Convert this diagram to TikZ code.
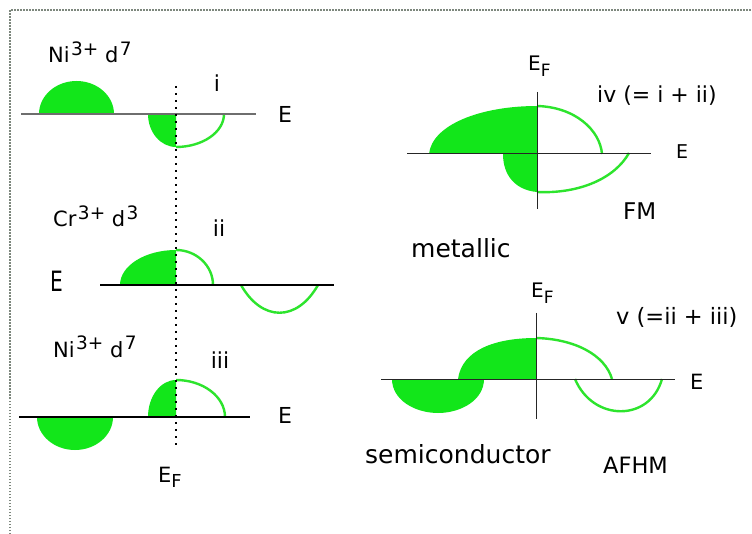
\documentclass[tikz,border=0pt]{standalone}
\usepackage{fontspec}
\setmainfont{DejaVu Sans}
\definecolor{bandgreen}{RGB}{18,230,26}
\definecolor{lineg}{RGB}{45,228,45}
\definecolor{axgray}{RGB}{110,110,110}
\definecolor{framegray}{RGB}{125,135,125}
\newcommand\myup[1]{\kern1.5pt\raisebox{0.36em}{\scalebox{0.88}{#1}}}
\newcommand\mydn[1]{\raisebox{-0.28em}{\scalebox{0.85}{#1}}}
\tikzset{
  bandfill/.style={fill=bandgreen},
  bandline/.style={draw=lineg,line width=2.4pt},
  axisA/.style={draw=axgray,line width=1.5pt},
  axisB/.style={draw=black,line width=1.8pt},
  axisC/.style={draw=black!85,line width=1pt},
  fermi/.style={draw=black,line width=2.2pt,dash pattern=on 1.8pt off 5.2pt},
  lbl/.style={inner sep=0pt,anchor=base west},
  lblc/.style={inner sep=0pt,anchor=base},
}
\begin{document}
\begin{tikzpicture}[x=1pt,y=-1pt]
\useasboundingbox (0,0) rectangle (752,534);
\fill[white] (0,0) rectangle (752,534);
% frame
\draw[framegray,line width=2pt,dash pattern=on 1.5pt off 1.5pt] (10,534) -- (10,10) -- (752,10);

% ---------- panel i ----------
\fill[bandfill] (39,114) .. controls (39,95.8) and (55.8,81) .. (76.5,81)
  .. controls (97.2,81) and (114,95.8) .. (114,114) -- cycle;
\fill[bandfill] (148,114) .. controls (148,132.2) and (160.5,147) .. (176,147) -- (176,114) -- cycle;
\draw[bandline] (176,147) .. controls (202.5,147) and (224,132.2) .. (224,114);
\draw[axisA] (21,114) -- (256,114);

% ---------- panel ii ----------
\fill[bandfill] (120,285) .. controls (120,265.7) and (145.1,250) .. (176,250) -- (176,285) -- cycle;
\draw[bandline] (176,250) .. controls (196.4,250) and (213,265.7) .. (213,285);
\draw[bandline] (241,285) .. controls (262,322) and (297,322) .. (318,285);
\draw[axisB] (100,285) -- (334,285);

% ---------- panel iii ----------
\fill[bandfill] (37,417) .. controls (37,435.2) and (54,450) .. (75,450)
  .. controls (96,450) and (113,435.2) .. (113,417) -- cycle;
\fill[bandfill] (148,417) .. controls (148,396.6) and (160.5,380) .. (176,380) -- (176,417) -- cycle;
\draw[bandline] (176,380) .. controls (203,380) and (225,396.6) .. (225,417);
\draw[axisB] (19,417) -- (250,417);

% Fermi level (dotted)
\coordinate (fTop) at (176,86);
\coordinate (fBot) at (176,447);
\draw[fermi] (fTop) -- (fBot);

% ---------- panel iv ----------
\fill[bandfill] (429,154) .. controls (432,125) and (480,106) .. (537,106) -- (537,154) -- cycle;
\draw[bandline] (537,106) .. controls (575,107) and (600,130) .. (602,154);
\fill[bandfill] (503,154) .. controls (503,175) and (515,190) .. (537,192) -- (537,154) -- cycle;
\draw[bandline] (537,192) .. controls (580,194) and (615,178) .. (629,153);
\coordinate (ivL) at (407,154);
\coordinate (ivR) at (651,154);
\coordinate (ivT) at (537,92);
\coordinate (ivB) at (537,209);
\draw[axisC] (ivL) -- (ivR);
\draw[axisC] (ivT) -- (ivB);

% ---------- panel v ----------
\fill[bandfill] (458,379) .. controls (462,350) and (495,338) .. (536,338) -- (536,379) -- cycle;
\draw[bandline] (536,338) .. controls (575,339) and (605,355) .. (612,379);
\fill[bandfill] (392,379) .. controls (392,400) and (415,413) .. (438,413)
  .. controls (461,413) and (484,400) .. (484,379) -- cycle;
\draw[bandline] (575,379) .. controls (593,422) and (650,422) .. (662,379);
\coordinate (vL) at (381,379);
\coordinate (vR) at (675,379);
\coordinate (vT) at (536,313);
\coordinate (vB) at (536,419);
\draw[axisC] (vL) -- (vR);
\draw[axisC] (vT) -- (vB);

% ---------- labels ----------
\node[lbl,font=\fontsize{21}{24}\selectfont] (t1) at (48,63) {Ni\myup{3+} d\myup{7}};
\node[lblc,font=\fontsize{22}{26}\selectfont] (li) at (217,92) {i};
\node[lbl,font=\fontsize{22}{26}\selectfont] (e1) at (278,123) {E};

\node[lbl,font=\fontsize{21}{24}\selectfont] (t2) at (53,227) {Cr\myup{3+} d\myup{3}};
\node[lblc,font=\fontsize{22}{26}\selectfont] (lii) at (219,237) {ii};
\node[lbl,font=\fontsize{28}{30}\selectfont,xscale=0.72] (e2) at (50,292) {E};

\node[lbl,font=\fontsize{21}{24}\selectfont] (t3) at (53,357) {Ni\myup{3+} d\myup{7}};
\node[lblc,font=\fontsize{22}{26}\selectfont] (liii) at (220,368) {iii};
\node[lbl,font=\fontsize{22}{26}\selectfont] (e3) at (278,423) {E};
\node[lbl,font=\fontsize{21}{24}\selectfont] (ef1) at (158,482) {E\mydn{F}};

\node[lbl,font=\fontsize{20}{24}\selectfont] (ef4) at (528,71) {E\mydn{F}};
\node[lbl,font=\fontsize{22}{26}\selectfont] (liv) at (597,103) {iv (= i + ii)};
\node[lbl,font=\fontsize{19}{22}\selectfont] (e4) at (676,159) {E};
\node[lbl,font=\fontsize{23}{26}\selectfont] (fm) at (623,220) {FM};
\node[lbl,font=\fontsize{25}{28}\selectfont] (met) at (411,258) {metallic};

\node[lbl,font=\fontsize{20}{24}\selectfont] (ef5) at (531,298) {E\mydn{F}};
\node[lbl,font=\fontsize{22.5}{26}\selectfont] (lv) at (616,325) {v (=ii + iii)};
\node[lbl,font=\fontsize{21}{24}\selectfont] (e5) at (690,389) {E};
\node[lbl,font=\fontsize{25}{28}\selectfont] (semi) at (365,463) {semiconductor};
\node[lbl,font=\fontsize{22.5}{26}\selectfont] (afhm) at (603,473) {AFHM};
\end{tikzpicture}
\end{document}
